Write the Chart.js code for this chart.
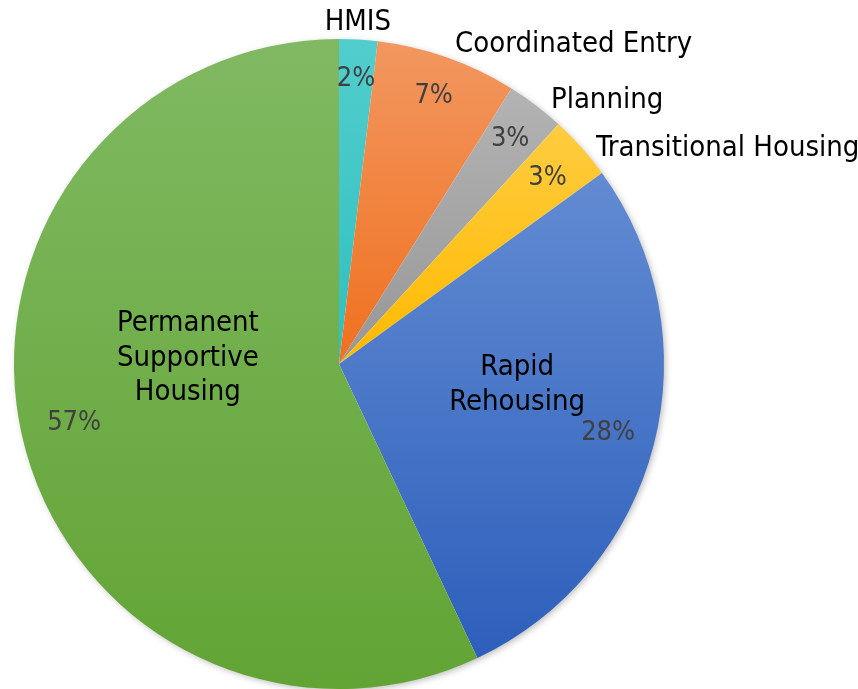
<!DOCTYPE html>
<html>
<head>
<meta charset="utf-8">
<script src="https://cdn.jsdelivr.net/npm/chart.js@4"></script>
<style>
  html, body { margin: 0; padding: 0; background: #fff; }
  #wrap { width: 858px; height: 689px; }
</style>
</head>
<body>
<div id="wrap"><canvas id="pie"></canvas></div>
<script>
// data (clockwise from 12 o'clock)
const categories = ['HMIS', 'Coordinated Entry', 'Planning', 'Transitional Housing', 'Rapid Rehousing', 'Permanent Supportive Housing'];
const shares = [1.9, 7.0, 2.9, 3.2, 28.0, 57.0];
const topColors = ['#52cdcd', '#f29760', '#b3b3b3', '#ffcc40', '#628bd2', '#80b962'];
const bottomColors = ['#30bfbf', '#f0701e', '#979797', '#ffba00', '#2d5fbb', '#62a434'];

// where the category names sit, in units of the radius from the centre
const nameSpots = [
  { ux: 0.058, uy: -1.052, align: 'center', lines: ['HMIS'] },
  { ux: 0.357, uy: -0.982, align: 'left', lines: ['Coordinated Entry'] },
  { ux: 0.652, uy: -0.812, align: 'left', lines: ['Planning'] },
  { ux: 0.791, uy: -0.662, align: 'left', lines: ['Transitional Housing'] },
  { ux: 0.548, uy: 0.065, align: 'center', lines: ['Rapid', 'Rehousing'] },
  { ux: -0.465, uy: -0.018, align: 'center', lines: ['Permanent', 'Supportive', 'Housing'] }
];
// how far out along the slice middle each percentage goes (share of radius)
const pctDepth = [0.88, 0.875, 0.87, 0.86, 0.855, 0.835];

const FONT = '"DejaVu Sans Condensed", "DejaVu Sans", sans-serif';

// vertical gradient across each slice's own bounding box
function sliceGradient(context) {
  const chart = context.chart;
  const i = context.dataIndex;
  const area = chart.chartArea;
  if (!area) return topColors[i];
  const cy = (area.top + area.bottom) / 2;
  const r = Math.min(area.right - area.left, area.bottom - area.top) / 2;
  const vals = chart.data.datasets[0].data;
  const total = vals.reduce((a, b) => a + b, 0);
  let before = 0;
  for (let k = 0; k < i; k++) before += vals[k];
  const a0 = -Math.PI / 2 + before / total * 2 * Math.PI;
  const a1 = a0 + vals[i] / total * 2 * Math.PI;
  let minY = cy, maxY = cy;
  for (let k = 0; k <= 60; k++) {
    const y = cy + Math.sin(a0 + (a1 - a0) * k / 60) * r;
    minY = Math.min(minY, y);
    maxY = Math.max(maxY, y);
  }
  const g = chart.ctx.createLinearGradient(0, minY, 0, maxY);
  g.addColorStop(0, topColors[i]);
  g.addColorStop(1, bottomColors[i]);
  return g;
}

const shadowPlugin = {
  id: 'softShadow',
  beforeDatasetsDraw(chart) {
    const arc = chart.getDatasetMeta(0).data[0];
    if (!arc) return;
    const ctx = chart.ctx;
    ctx.save();
    ctx.shadowColor = 'rgba(0,0,0,0.3)';
    ctx.shadowBlur = 7;
    ctx.shadowOffsetX = 2;
    ctx.shadowOffsetY = 2;
    ctx.fillStyle = '#ffffff';
    ctx.beginPath();
    ctx.arc(arc.x, arc.y, arc.outerRadius - 1, 0, Math.PI * 2);
    ctx.fill();
    ctx.restore();
  }
};

const labelPlugin = {
  id: 'sliceLabels',
  afterDraw(chart) {
    const ctx = chart.ctx;
    const arcs = chart.getDatasetMeta(0).data;
    const vals = chart.data.datasets[0].data;
    const total = vals.reduce((a, b) => a + b, 0);
    ctx.save();
    ctx.textBaseline = 'middle';
    arcs.forEach((arc, i) => {
      const p = arc.getProps(['x', 'y', 'startAngle', 'endAngle', 'outerRadius'], true);
      const mid = (p.startAngle + p.endAngle) / 2;
      const r = p.outerRadius;
      // percentage
      ctx.font = '27px ' + FONT;
      ctx.fillStyle = '#404040';
      ctx.textAlign = 'center';
      ctx.fillText(Math.round(vals[i] / total * 100) + '%',
        p.x + Math.cos(mid) * r * pctDepth[i], p.y + Math.sin(mid) * r * pctDepth[i]);
      // category name
      const s = nameSpots[i];
      ctx.font = '29px ' + FONT;
      ctx.fillStyle = '#000000';
      ctx.textAlign = s.align;
      const lh = 34.5;
      const x0 = p.x + s.ux * r;
      const y0 = p.y + s.uy * r - (s.lines.length - 1) * lh / 2;
      s.lines.forEach((t, k) => ctx.fillText(t, x0, y0 + k * lh));
    });
    ctx.restore();
  }
};

new Chart(document.getElementById('pie'), {
  type: 'pie',
  data: {
    labels: categories,
    datasets: [{
      data: shares,
      backgroundColor: sliceGradient,
      borderWidth: 0,
      hoverOffset: 0
    }]
  },
  options: {
    responsive: true,
    maintainAspectRatio: false,
    animation: false,
    layout: { padding: { left: 14, right: 194, top: 39, bottom: 0 } },
    plugins: {
      legend: { display: false },
      tooltip: { enabled: false }
    }
  },
  plugins: [shadowPlugin, labelPlugin]
});
</script>
</body>
</html>
